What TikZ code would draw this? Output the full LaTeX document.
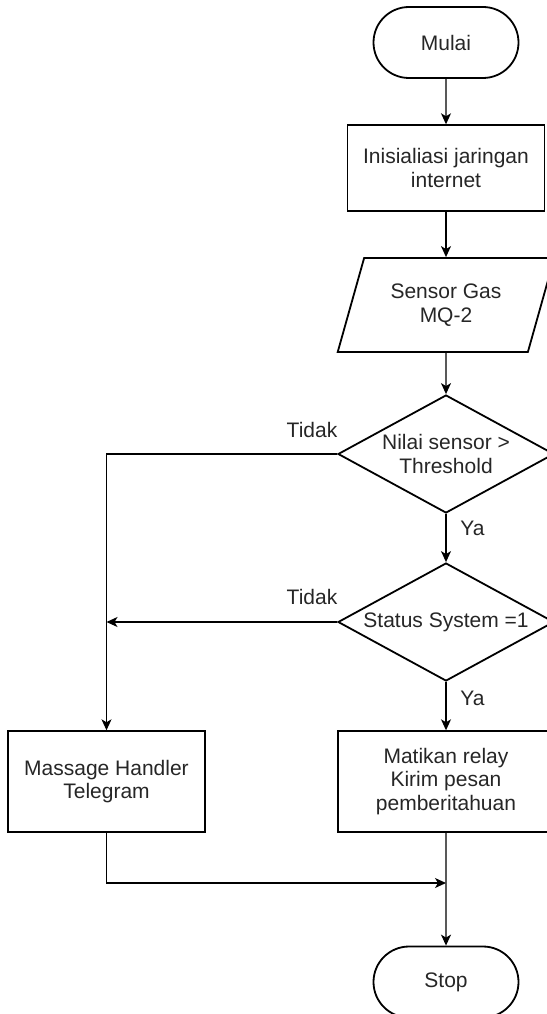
\documentclass[tikz,border=0pt]{standalone}
\usepackage{fontspec}
\setmainfont{Liberation Sans}
\usetikzlibrary{shapes.geometric,shapes.misc,arrows.meta}

\begin{document}
\begin{tikzpicture}[x=1pt,y=-1pt,
		font=\fontsize{21}{23.5}\selectfont,
		every node/.style={text=black!85},
		term/.style={rounded rectangle,draw=black,line width=1.8pt,minimum width=145pt,minimum height=71pt,inner sep=0pt},
		proc/.style={rectangle,draw=black,line width=1.4pt,align=center,inner sep=0pt},
		dec/.style={diamond,draw=black,line width=1.8pt,aspect=1.83,minimum width=216pt,minimum height=118pt,inner sep=0pt,align=center},
		io/.style={trapezium,trapezium left angle=67,trapezium right angle=113,trapezium stretches=true,draw=black,line width=1.8pt,minimum width=217pt,minimum height=94pt,inner sep=0pt,align=center},
		flow/.style={line width=1.3pt,-{Stealth[length=11pt,width=10pt,inset=3pt]}}]
				\useasboundingbox (0,0) rectangle (546,1014);

				\node[term] (mulai) at (446,42.5) {Mulai};
				\node[proc,minimum width=197pt,minimum height=86pt] (init) at (446,168) {Inisialiasi jaringan\\internet};
				\node[io] (sensor) at (446,305) {Sensor Gas\\MQ-2};
				\node[dec] (nilai) at (446,454) {Nilai sensor >\\Threshold};
				\node[dec] (status) at (446,622) {Status System =1};
				\node[proc,minimum width=197pt,minimum height=101pt] (handler) at (106.5,781.5) {Massage Handler\\Telegram};
				\node[proc,minimum width=216pt,minimum height=101pt] (relay) at (446,781.5) {Matikan relay\\Kirim pesan\\pemberitahuan};
				\node[term] (stop) at (446,982) {Stop};

				\node (tidakA) at (312,430) {Tidak};
				\node (tidakB) at (312,597) {Tidak};
				\node (yaA) at (472.5,528) {Ya};
				\node (yaB) at (472.5,698) {Ya};

				\coordinate (cabang) at (handler.north |- status.west);
				\coordinate (gabung) at (446,883);

				\draw [flow](mulai) -- (init);
				\draw [flow](init) -- (sensor);
				\draw [flow](sensor) -- (nilai);
				\draw [flow](nilai) -- (status);
				\draw [flow](nilai.west) -| (handler.north);
				\draw [flow](status.west) -- (cabang);
				\draw [flow](status) -- (relay);
				\draw [flow](relay) -- (stop);
				\draw [flow](handler.south) |- (gabung);
			\end{tikzpicture}
\end{document}
